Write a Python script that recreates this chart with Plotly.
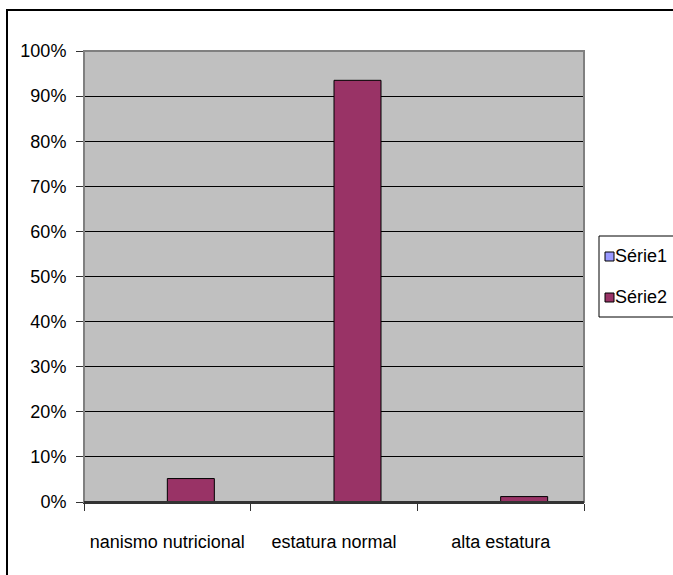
import plotly.graph_objects as go

categories = ["nanismo nutricional", "estatura normal", "alta estatura"]
serie1 = [None, None, None]
serie2 = [0.052, 0.935, 0.012]
series_names = ["Série1", "Série2"]
series_colors = ["#9999FF", "#993366"]

W, H = 673, 575
L, R, T, B = 84, 584, 51, 502
FONT = "Liberation Sans, Arial, sans-serif"
FS = 18

fig = go.Figure()
for name, vals, col in [(series_names[0], serie1, series_colors[0]),
                        (series_names[1], serie2, series_colors[1])]:
    fig.add_trace(go.Bar(
        x=categories, y=vals, name=name,
        marker=dict(color=col, line=dict(color="black", width=1)),
    ))

pw, ph = R - L, B - T
def px(x):
    return (x - L) / pw
def py(y):
    return (B - y) / ph

shapes = [
    dict(type="rect", xref="paper", yref="paper",
         x0=0, x1=1, y0=0, y1=1, line=dict(color="#808080", width=2), layer="above"),
    dict(type="line", xref="paper", yref="paper",
         x0=0, x1=1, y0=0, y1=0, line=dict(color="#333333", width=2), layer="above"),
    dict(type="rect", xref="paper", yref="paper",
         x0=px(7), x1=px(700), y0=py(600), y1=py(10),
         line=dict(color="black", width=2)),
    # legend box
    dict(type="rect", xref="paper", yref="paper",
         x0=px(599), x1=px(700), y0=py(317), y1=py(236),
         line=dict(color="black", width=1), fillcolor="white"),
]
annotations = []
legend_rows = [256, 297]
for name, col, yc in zip(series_names, series_colors, legend_rows):
    shapes.append(dict(type="rect", xref="paper", yref="paper",
                       x0=px(605), x1=px(614), y0=py(yc + 5), y1=py(yc - 4),
                       line=dict(color="black", width=1), fillcolor=col))
    annotations.append(dict(xref="paper", yref="paper", x=px(613), y=py(yc),
                            xanchor="left", yanchor="middle", text=name,
                            showarrow=False, font=dict(family=FONT, size=FS, color="black")))

fig.update_layout(
    width=W, height=H,
    margin=dict(l=L, r=W - R, t=T, b=H - B, autoexpand=False),
    paper_bgcolor="white",
    plot_bgcolor="#C0C0C0",
    barmode="group", bargap=0.436, bargroupgap=0,
    font=dict(family=FONT, size=FS, color="black"),
    showlegend=False,
    xaxis=dict(
        showgrid=False, showline=True, linecolor="#333333", linewidth=2,
        ticks="outside", tickson="boundaries", ticklen=7, tickcolor="#333333",
        tickangle=0, ticklabelstandoff=22, fixedrange=True,
    ),
    yaxis=dict(
        range=[0, 1], dtick=0.1, tickformat=".0%",
        showgrid=True, gridcolor="black", gridwidth=1,
        showline=True, linecolor="#808080", linewidth=1,
        ticks="outside", ticklen=7, tickcolor="#333333",
        ticklabelstandoff=6,
        zeroline=False, fixedrange=True,
    ),
    shapes=shapes,
    annotations=annotations,
)

fig.write_html("out.html")
